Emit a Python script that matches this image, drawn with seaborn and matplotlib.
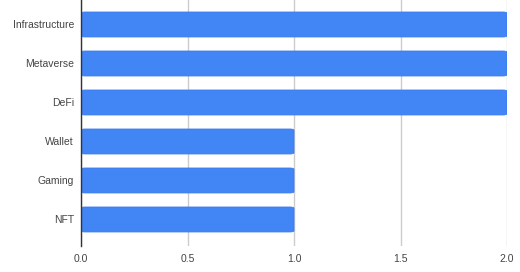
import matplotlib
matplotlib.use("Agg")
import matplotlib.pyplot as plt
import seaborn as sns
import pandas as pd
from matplotlib.patches import FancyBboxPatch

categories = ["Infrastructure", "Metaverse", "DeFi", "Wallet", "Gaming", "NFT"]
values = [2, 2, 2, 1, 1, 1]
xticks = [0.0, 0.5, 1.0, 1.5, 2.0]

sns.set_theme(style="white")
plt.rcParams["font.family"] = ["Liberation Sans", "DejaVu Sans"]

df = pd.DataFrame({"category": categories, "value": values})

fig = plt.figure(figsize=(5.2, 2.72), dpi=100)
ax = fig.add_axes([81 / 520, 26 / 272, (507 - 81) / 520, 246 / 272])

sns.barplot(data=df, x="value", y="category", orient="h", color="#4285F4",
            width=0.64, ax=ax, saturation=1, zorder=3)

# rounded corners
for p in list(ax.patches):
    x, y = p.get_x(), p.get_y()
    w, h = p.get_width(), p.get_height()
    fb = FancyBboxPatch((x, y), w, h, boxstyle="round,pad=0,rounding_size=0.02",
                        mutation_aspect=1.5, facecolor="#4285F4",
                        edgecolor="#3b7cf0", linewidth=0.6, zorder=3)
    p.remove()
    ax.add_patch(fb)

ax.set_xlim(0, 2.0)
ax.set_ylim(5.68, -0.628)
ax.set_xticks(xticks)
ax.set_xticklabels([f"{t:.1f}" for t in xticks])
ax.set_xlabel("")
ax.set_ylabel("")
for sp in ["top", "right", "bottom"]:
    ax.spines[sp].set_visible(False)
ax.spines["left"].set_color("#333333")
ax.spines["left"].set_linewidth(1.0)
ax.spines["left"].set_zorder(4)
ax.grid(axis="x", color="#cccccc", linewidth=1.0, zorder=0)
ax.set_axisbelow(True)
ax.tick_params(axis="both", length=0, labelsize=7.5, colors="#444444", pad=5)
ax.tick_params(axis="x", pad=6)

fig.savefig("out.png", dpi=100)
